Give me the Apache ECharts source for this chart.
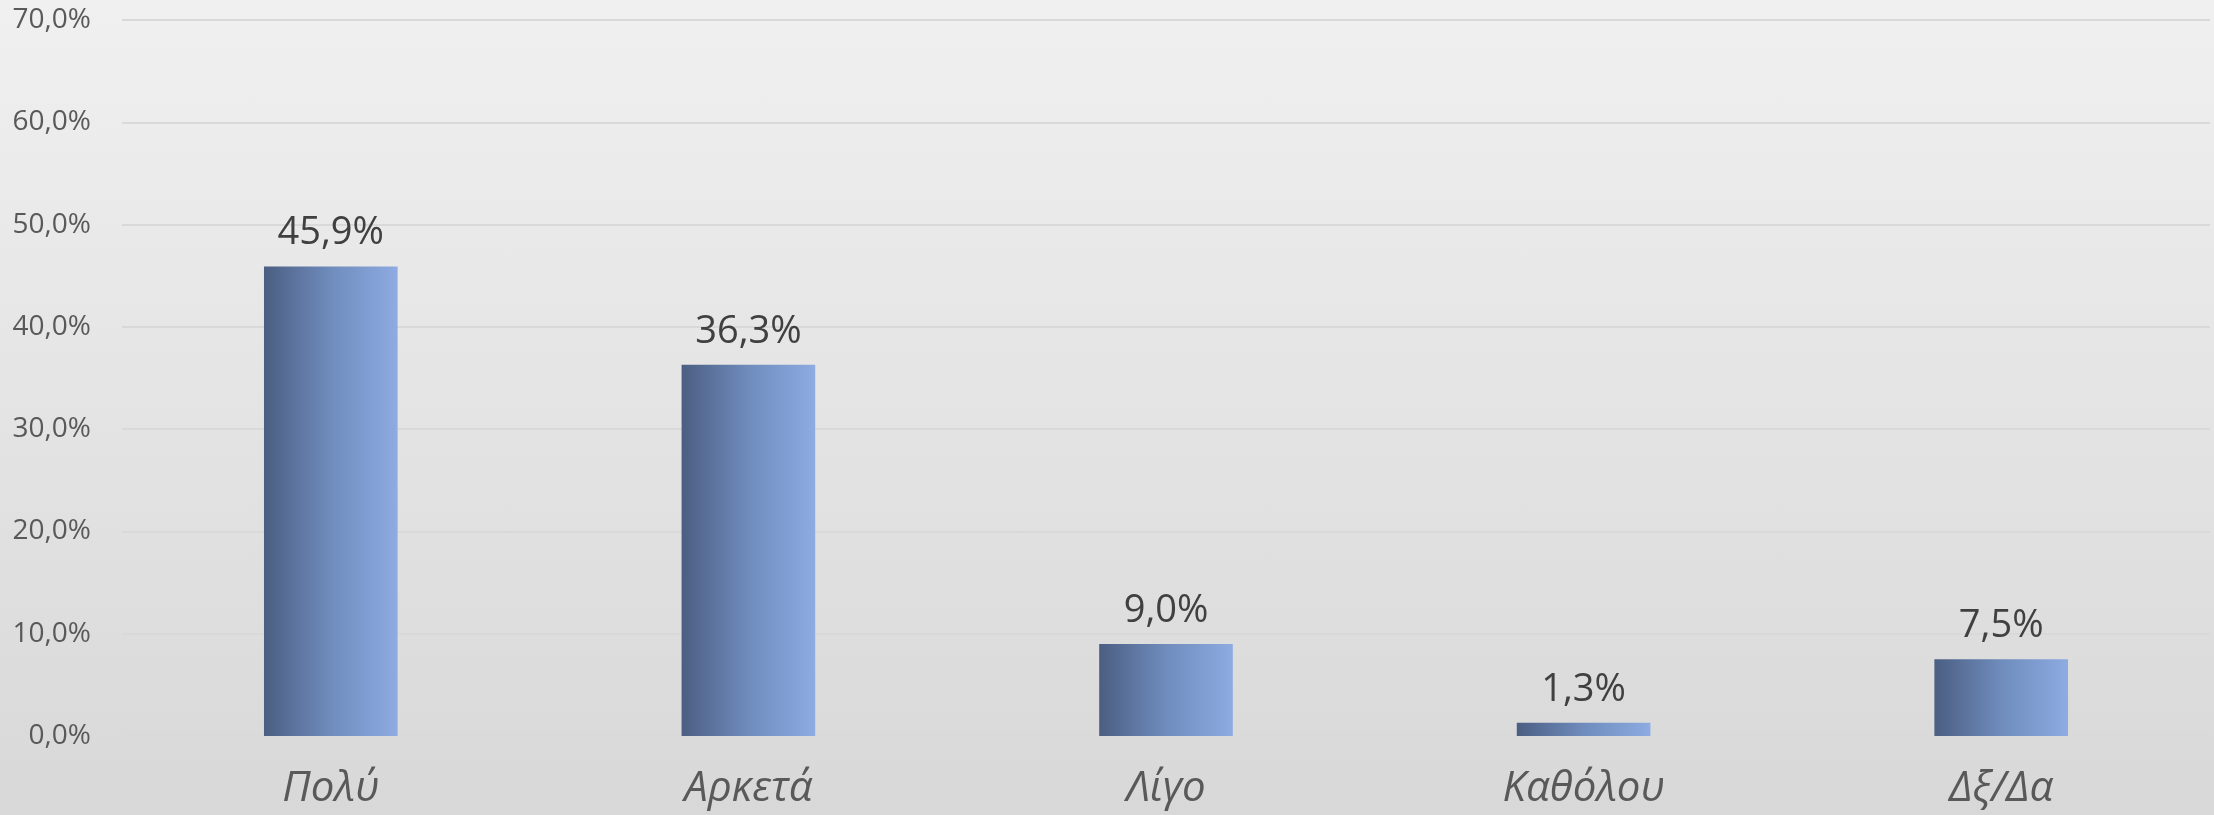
<!DOCTYPE html>
<html>
<head>
<meta charset="utf-8">
<script src="https://cdn.jsdelivr.net/npm/echarts@6/dist/echarts.min.js"></script>
<style>
  html, body { margin: 0; padding: 0; }
  #chart { width: 2214px; height: 815px; background: linear-gradient(to bottom, #f0f0f0, #d8d8d8); }
</style>
</head>
<body>
<div id="chart"></div>
<script>
const categories = ['Πολύ', 'Αρκετά', 'Λίγο', 'Καθόλου', 'Δξ/Δα'];
const values = [45.9, 36.3, 9.0, 1.3, 7.5];
const yTicks = { min: 0, max: 70, interval: 10 };

const fmt = v => v.toFixed(1).replace('.', ',') + '%';

const myChart = echarts.init(document.getElementById('chart'));

const option = {
  backgroundColor: 'transparent',
  grid: { left: 122, right: 4, top: 20, bottom: 79 },
  xAxis: {
    type: 'category',
    data: categories,
    axisLine: { show: false },
    axisTick: { show: false },
    axisLabel: {
      fontFamily: 'Open Sans',
      fontStyle: 'italic',
      fontSize: 42,
      color: '#595959',
      margin: 32
    }
  },
  yAxis: {
    type: 'value',
    min: yTicks.min,
    max: yTicks.max,
    interval: yTicks.interval,
    axisLine: { show: false },
    axisTick: { show: false },
    axisLabel: {
      fontFamily: 'Open Sans',
      fontSize: 28,
      color: '#595959',
      margin: 31,
      formatter: v => fmt(v)
    },
    splitLine: { lineStyle: { color: '#d9d9d9', width: 2 } }
  },
  series: [
    {
      type: 'bar',
      data: values,
      barWidth: '32%',
      itemStyle: {
        color: new echarts.graphic.LinearGradient(0, 0, 1, 0, [
          { offset: 0, color: '#4b5e82' },
          { offset: 0.5, color: '#6f8cbd' },
          { offset: 1, color: '#8eabe2' }
        ])
      },
      label: {
        show: true,
        position: 'top',
        distance: 14,
        fontFamily: 'Open Sans',
        fontSize: 38,
        color: '#404040',
        formatter: p => fmt(p.value)
      }
    }
  ]
};

myChart.setOption(option);
</script>
</body>
</html>
